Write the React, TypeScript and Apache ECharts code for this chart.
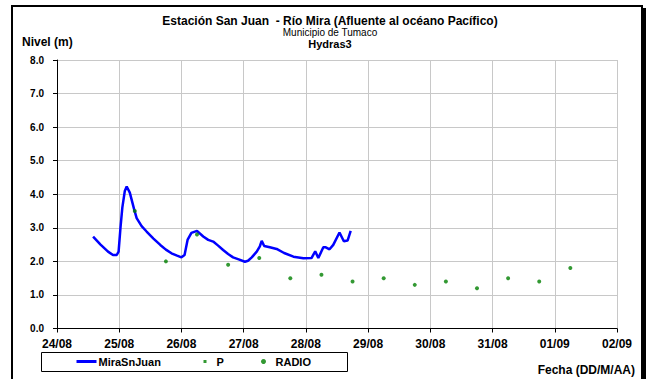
import React, { useEffect, useRef } from "react";
import * as echarts from "echarts";

// Days elapsed since 24/08 00:00
const xTickLabels = ["24/08", "25/08", "26/08", "27/08", "28/08", "29/08", "30/08", "31/08", "01/09", "02/09"];

const levelTimes = [
  0.58, 0.70, 0.82, 0.90, 0.96, 0.99, 1.02, 1.05, 1.09, 1.12, 1.17, 1.24, 1.28, 1.36, 1.44, 1.55,
  1.66, 1.75, 1.84, 1.93, 2.00, 2.05, 2.10, 2.16, 2.25, 2.35, 2.43, 2.51, 2.59, 2.67, 2.75, 2.83,
  2.92, 3.02, 3.07, 3.13, 3.21, 3.26, 3.29, 3.33, 3.42, 3.53, 3.65, 3.80, 3.96, 4.09, 4.15, 4.20,
  4.28, 4.32, 4.38, 4.44, 4.54, 4.61, 4.67, 4.72,
];
const levelValues = [
  2.74, 2.50, 2.29, 2.19, 2.19, 2.29, 3.00, 3.60, 4.10, 4.23, 4.05, 3.55, 3.29, 3.05, 2.89, 2.68,
  2.49, 2.35, 2.24, 2.17, 2.12, 2.19, 2.65, 2.85, 2.91, 2.74, 2.64, 2.59, 2.47, 2.34, 2.22, 2.12,
  2.06, 1.99, 2.02, 2.12, 2.29, 2.45, 2.61, 2.46, 2.42, 2.37, 2.25, 2.14, 2.09, 2.10, 2.30, 2.10,
  2.42, 2.42, 2.36, 2.49, 2.86, 2.60, 2.62, 2.91,
];

const pTimes = [1.25, 1.75, 2.25, 2.75, 3.25, 3.75, 4.25, 4.75, 5.25, 5.75, 6.25, 6.75, 7.25, 7.75, 8.25];
const pValues = [3.5, 2.0, 2.8, 1.9, 2.1, 1.5, 1.6, 1.4, 1.5, 1.3, 1.4, 1.2, 1.5, 1.4, 1.8];

const radioTimes: number[] = [];
const radioValues: number[] = [];

const FONT = "'Liberation Sans', Arial, sans-serif";

export default function App() {
  const ref = useRef<HTMLDivElement>(null);

  useEffect(() => {
    if (!ref.current) return;
    const chart = echarts.init(ref.current, undefined, { renderer: "svg" });

    const legendText = { fontSize: 11, fontWeight: "bold" as const, color: "#000", fontFamily: FONT };

    chart.setOption({
      animation: false,
      backgroundColor: "#ffffff",
      grid: { left: 57, right: 33, top: 60, bottom: 50.5, containLabel: false },
      xAxis: {
        type: "value",
        min: 0,
        max: 9,
        interval: 1,
        axisLine: { show: true, lineStyle: { color: "#000", width: 1 } },
        axisTick: { show: true, length: 4, lineStyle: { color: "#000" } },
        axisLabel: {
          formatter: (v: number) => xTickLabels[Math.round(v)] ?? "",
          fontSize: 12,
          fontWeight: "bold",
          color: "#000",
          fontFamily: FONT,
          margin: 9,
        },
        splitLine: { show: true, lineStyle: { color: "#c8c8c8", width: 1 } },
      },
      yAxis: {
        type: "value",
        min: 0,
        max: 8,
        interval: 1,
        axisLine: { show: true, lineStyle: { color: "#000", width: 1 } },
        axisTick: { show: true, length: 4, lineStyle: { color: "#000" } },
        axisLabel: {
          formatter: (v: number) => v.toFixed(1),
          fontSize: 10,
          fontWeight: "bold",
          color: "#000",
          fontFamily: FONT,
          margin: 13,
        },
        splitLine: { show: true, lineStyle: { color: "#c8c8c8", width: 1 } },
      },
      legend: [
        {
          data: [{ name: "MiraSnJuan", itemStyle: { opacity: 0 } }],
          left: 75,
          top: 356,
          padding: 0,
          itemWidth: 20,
          itemHeight: 10,
          lineStyle: { width: 3 },
          textStyle: { ...legendText, padding: [0, 0, 0, -3] },
        },
        {
          data: [{ name: "P", icon: "rect" }],
          left: 203.5,
          top: 356,
          padding: 0,
          itemWidth: 3,
          itemHeight: 3,
          textStyle: { ...legendText, padding: [0, 0, 0, 5] },
        },
        {
          data: [{ name: "RADIO", icon: "circle" }],
          left: 261,
          top: 356,
          padding: 0,
          itemWidth: 14,
          itemHeight: 5,
          textStyle: legendText,
        },
      ],
      graphic: [
        {
          type: "rect",
          shape: { x: 12, y: 6, width: 630, height: 380 },
          style: { fill: "none", stroke: "#000", lineWidth: 2 },
          silent: true,
        },
        {
          type: "rect",
          shape: { x: 643, y: 8, width: 3, height: 380 },
          style: { fill: "#000" },
          silent: true,
        },
        {
          type: "rect",
          shape: { x: 41.5, y: 352.5, width: 306, height: 19 },
          style: { fill: "#fff", stroke: "#000", lineWidth: 1 },
          silent: true,
        },
        {
          type: "text",
          x: 330,
          y: 21,
          style: {
            text: "Estación San Juan  - Río Mira (Afluente al océano Pacífico)",
            font: `bold 12px ${FONT}`,
            fill: "#000",
            textAlign: "center",
            textVerticalAlign: "middle",
            align: "center",
            verticalAlign: "middle",
          },
        },
        {
          type: "text",
          x: 330,
          y: 32,
          style: {
            text: "Municipio de Tumaco",
            font: `10px ${FONT}`,
            fill: "#000",
            textAlign: "center",
            textVerticalAlign: "middle",
            align: "center",
            verticalAlign: "middle",
          },
        },
        {
          type: "text",
          x: 330,
          y: 44,
          style: {
            text: "Hydras3",
            font: `bold 11px ${FONT}`,
            fill: "#000",
            textAlign: "center",
            textVerticalAlign: "middle",
            align: "center",
            verticalAlign: "middle",
          },
        },
        {
          type: "text",
          x: 22,
          y: 42,
          style: {
            text: "Nivel (m)",
            font: `bold 12px ${FONT}`,
            fill: "#000",
            textAlign: "left",
            textVerticalAlign: "middle",
            align: "left",
            verticalAlign: "middle",
          },
        },
        {
          type: "text",
          x: 635,
          y: 370,
          style: {
            text: "Fecha (DD/M/AA)",
            font: `bold 12px ${FONT}`,
            fill: "#000",
            textAlign: "right",
            textVerticalAlign: "middle",
            align: "right",
            verticalAlign: "middle",
          },
        },
      ],
      series: [
        {
          name: "MiraSnJuan",
          type: "line",
          data: levelTimes.map((t, i) => [t, levelValues[i]]),
          symbol: "none",
          showSymbol: false,
          lineStyle: { color: "#0000ff", width: 2.5 },
          itemStyle: { color: "#0000ff" },
          z: 3,
        },
        {
          name: "P",
          type: "scatter",
          data: pTimes.map((t, i) => [t, pValues[i]]),
          symbol: "circle",
          symbolSize: 4,
          itemStyle: { color: "#008000" },
          z: 4,
        },
        {
          name: "RADIO",
          type: "scatter",
          data: radioTimes.map((t, i) => [t, radioValues[i]]),
          symbol: "circle",
          symbolSize: 5,
          itemStyle: { color: "#008000" },
        },
      ],
    });

    return () => chart.dispose();
  }, []);

  return (
    <div
      ref={ref}
      style={{ position: "fixed", left: 0, top: 0, width: 650, height: 379, background: "#fff" }}
    />
  );
}
